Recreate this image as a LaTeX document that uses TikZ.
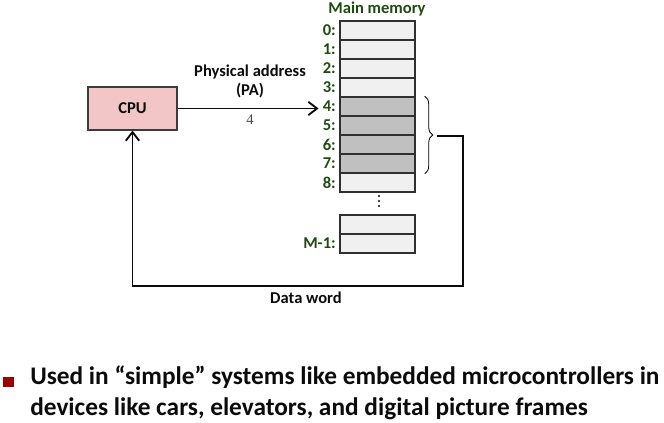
\documentclass[tikz,border=0pt]{standalone}
\usepackage{fontspec}
\setmainfont{Carlito}
\newfontfamily\numfont{Liberation Serif}
\usepackage{tikz}
\usetikzlibrary{arrows.meta,positioning,decorations.pathreplacing}
\definecolor{ink}{HTML}{0B0B0B}
\definecolor{cpufill}{HTML}{F2C6C6}
\definecolor{addrgreen}{HTML}{1F4A12}
\definecolor{celllight}{HTML}{F0F0F0}
\definecolor{celldark}{HTML}{C0C0C0}
\definecolor{bulletred}{HTML}{990000}
\definecolor{numgrey}{HTML}{4A4A4A}
\tikzset{
  every node/.style={text=ink, font=\bfseries\fontsize{12.4}{14.25}\selectfont},
  % one memory word; the argument is its fill
  cell/.style={draw=ink!85, fill=#1, line width=1.1pt, inner sep=0pt,
               minimum width=56.25pt, minimum height=14.25pt},
  addr/.style={text=addrgreen, anchor=east, inner sep=0pt},
  arr/.style={-{Straight Barb[length=6.5pt,width=10pt]}, line width=1.4pt, color=ink},
}

\begin{document}
\begin{tikzpicture}[x=0.75pt,y=-0.75pt]
  \useasboundingbox (0,0) rectangle (664,423);

  % CPU
  \node[draw=ink!80, fill=cpufill, line width=0.8pt, minimum width=66.75pt,
        minimum height=32.25pt] (cpu) at (132.5,108.5) {CPU};

  % main memory
  \node[text=addrgreen] (title) at (377,9) {Main memory};
  \foreach \i in {0,1,2,3,8}{
    \node[cell=celllight] (m\i) at (377.5,30.5+19*\i) {};
  }
  \foreach \i in {4,...,7}{
    \node[cell=celldark] (m\i) at (377.5,30.5+19*\i) {};
  }
  \foreach \i in {0,...,8}{
    \node[addr] (l\i) at (336,30.5+19*\i) {\i:};
  }
  \foreach \y in {196,201,206}{
    \fill[ink] (379,\y) circle (1.2);
  }
  \node[cell=celllight] (mt0) at (377.5,224.5) {};
  \node[cell=celllight] (mt1) at (377.5,243.5) {};
  \node[addr] (lt1) at (336,243.5) {M-1:};

  % address bus
  \draw[arr, shorten >=3pt] (cpu.east) -- (cpu.east -| l4.west)
    node[midway, above=4pt, align=center] (pa) {Physical address\\(PA)}
    node[midway, below=1pt, font=\numfont\fontsize{11}{12}\selectfont, text=numgrey] (pav) {4};

  % data word back to the CPU
  \draw[decorate, decoration={brace, amplitude=6pt}, line width=0.6pt]
    ([xshift=6.75pt]m4.north east) -- ([xshift=6.75pt]m7.south east);
  \coordinate[right=15.75pt of m5.south east] (bt);
  \coordinate (ret) at (463,286);
  \draw[arr] (bt) -| (ret) -| (cpu.south);
  \node[below=1pt] (dw) at (306,286) {Data word};

  % bullet
  \node[fill=bulletred, minimum size=8pt, inner sep=0pt] (bul) at (8.5,382) {};
  \node[anchor=base west, align=left, inner sep=0pt,
        font=\bfseries\fontsize{19}{23.25}\selectfont] (txt) at (30,416)
    {Used in “simple” systems like embedded microcontrollers in\\
     devices like cars, elevators, and digital picture frames};
\end{tikzpicture}
\end{document}
